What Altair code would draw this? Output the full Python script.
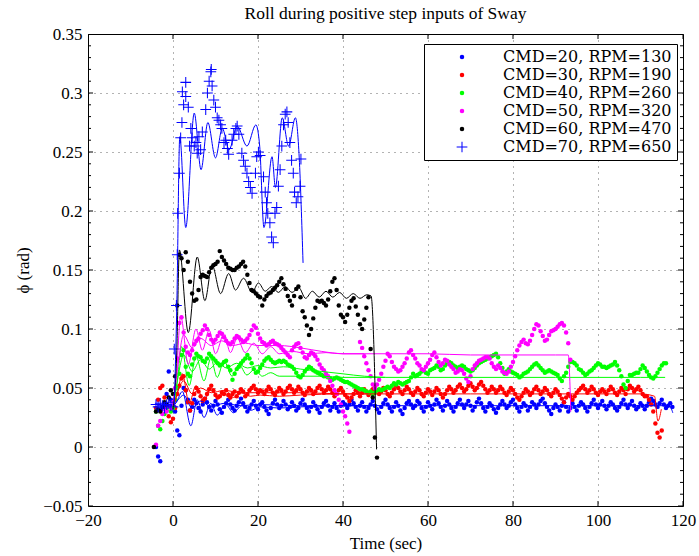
import altair as alt
import numpy as np
import pandas as pd

SERIES = ["CMD=20, RPM=130", "CMD=30, RPM=190", "CMD=40, RPM=260",
          "CMD=50, RPM=320", "CMD=60, RPM=470", "CMD=70, RPM=650"]
COLORS = ["#0000ff", "#ff0000", "#00ff00", "#ff00ff", "#000000", "#0000ff"]
# thin filled plus (arms ~1 px thick once scaled by the symbol size)
PLUS = ("M-2.4,-0.23L2.4,-0.23L2.4,0.23L-2.4,0.23Z"
        "M-0.23,-2.4L0.23,-2.4L0.23,2.4L-0.23,2.4Z")
SHAPES = ["circle", "circle", "circle", "circle", "circle", PLUS]

X_TICKS = [-20, 0, 20, 40, 60, 80, 100, 120]
Y_TICKS = [-0.05, 0.0, 0.05, 0.1, 0.15, 0.2, 0.25, 0.3, 0.35]
Y_MINOR = [round(-0.05 + 0.01 * i, 2) for i in range(41)]

# measured samples (0.5 s sample interval)
STEP = 0.5
T0_20 = -4.0
DOTS_20 = [0.000, -0.008, -0.012, 0.032, 0.036, 0.045, 0.064, 0.040, 0.035, 0.030,
           0.014, 0.010, 0.035, 0.050, 0.048, 0.040, 0.031, 0.034, 0.040, 0.037,
           0.033, 0.030, 0.036, 0.041, 0.038, 0.034, 0.031, 0.035, 0.039, 0.036,
           0.032, 0.029, 0.034, 0.037, 0.040, 0.036, 0.033, 0.031, 0.035, 0.038,
           0.041, 0.037, 0.034, 0.030, 0.033, 0.036, 0.039, 0.035, 0.032, 0.036,
           0.038, 0.034, 0.031, 0.028, 0.033, 0.037, 0.040, 0.036, 0.033, 0.035,
           0.039, 0.036, 0.032, 0.034, 0.038, 0.035, 0.031, 0.033, 0.037, 0.040,
           0.036, 0.033, 0.030, 0.034, 0.038, 0.035, 0.032, 0.029, 0.034, 0.037,
           0.039, 0.035, 0.031, 0.034, 0.037, 0.033, 0.030, 0.035, 0.038, 0.036,
           0.033, 0.036, 0.040, 0.037, 0.034, 0.031, 0.035, 0.038, 0.034, 0.030,
           0.033, 0.036, 0.039, 0.035, 0.032, 0.029, 0.034, 0.037, 0.040, 0.036,
           0.033, 0.030, 0.034, 0.038, 0.035, 0.031, 0.028, 0.033, 0.037, 0.039,
           0.036, 0.033, 0.035, 0.039, 0.037, 0.033, 0.030, 0.034, 0.038, 0.035,
           0.032, 0.036, 0.040, 0.037, 0.034, 0.031, 0.035, 0.039, 0.036, 0.033,
           0.030, 0.034, 0.037, 0.040, 0.036, 0.033, 0.036, 0.039, 0.035, 0.031,
           0.034, 0.038, 0.041, 0.037, 0.033, 0.030, 0.034, 0.037, 0.035, 0.032,
           0.029, 0.033, 0.036, 0.039, 0.036, 0.033, 0.035, 0.038, 0.040, 0.036,
           0.033, 0.030, 0.034, 0.037, 0.035, 0.031, 0.034, 0.038, 0.036, 0.033,
           0.036, 0.039, 0.041, 0.037, 0.034, 0.031, 0.028, 0.033, 0.036, 0.034,
           0.031, 0.035, 0.038, 0.034, 0.030, 0.033, 0.037, 0.034, 0.031, 0.035,
           0.038, 0.036, 0.033, 0.030, 0.034, 0.037, 0.040, 0.036, 0.033, 0.036,
           0.039, 0.035, 0.032, 0.035, 0.038, 0.036, 0.033, 0.031, 0.034, 0.037,
           0.040, 0.036, 0.033, 0.036, 0.039, 0.035, 0.032, 0.034, 0.037, 0.035,
           0.032, 0.035, 0.038, 0.041, 0.039, 0.036, 0.034, 0.037, 0.040, 0.036,
           0.033, 0.035, 0.037, 0.034]

T0_30 = -4.0
DOTS_30 = [0.033, 0.040, 0.050, 0.052, 0.042, 0.034, 0.026, 0.021, 0.024, 0.033,
           0.045, 0.052, 0.058, 0.060, 0.048, 0.038, 0.031, 0.037, 0.045, 0.050,
           0.047, 0.043, 0.039, 0.041, 0.045, 0.049, 0.052, 0.048, 0.044, 0.042,
           0.043, 0.046, 0.045, 0.048, 0.044, 0.042, 0.045, 0.047, 0.043, 0.046,
           0.049, 0.047, 0.043, 0.045, 0.048, 0.050, 0.052, 0.049, 0.046, 0.048,
           0.047, 0.045, 0.048, 0.051, 0.049, 0.046, 0.044, 0.047, 0.050, 0.048,
           0.045, 0.047, 0.050, 0.052, 0.049, 0.046, 0.048, 0.051, 0.049, 0.046,
           0.044, 0.047, 0.050, 0.048, 0.045, 0.047, 0.050, 0.052, 0.049, 0.046,
           0.048, 0.051, 0.049, 0.046, 0.043, 0.045, 0.048, 0.050, 0.047, 0.044,
           0.042, 0.039, 0.042, 0.045, 0.048, 0.046, 0.043, 0.046, 0.049, 0.047,
           0.044, 0.046, 0.049, 0.051, 0.048, 0.045, 0.047, 0.050, 0.048, 0.045,
           0.043, 0.046, 0.049, 0.052, 0.050, 0.047, 0.045, 0.048, 0.051, 0.049,
           0.046, 0.044, 0.047, 0.050, 0.048, 0.045, 0.043, 0.046, 0.049, 0.047,
           0.044, 0.047, 0.050, 0.048, 0.045, 0.042, 0.045, 0.048, 0.051, 0.049,
           0.046, 0.048, 0.051, 0.053, 0.050, 0.047, 0.049, 0.052, 0.054, 0.051,
           0.048, 0.050, 0.053, 0.055, 0.052, 0.049, 0.046, 0.048, 0.051, 0.049,
           0.046, 0.048, 0.051, 0.049, 0.046, 0.044, 0.047, 0.050, 0.048, 0.045,
           0.042, 0.040, 0.043, 0.046, 0.049, 0.047, 0.044, 0.046, 0.049, 0.051,
           0.048, 0.045, 0.047, 0.050, 0.048, 0.045, 0.043, 0.046, 0.049, 0.047,
           0.044, 0.041, 0.038, 0.042, 0.045, 0.043, 0.040, 0.043, 0.046, 0.048,
           0.050, 0.052, 0.049, 0.046, 0.048, 0.051, 0.049, 0.046, 0.044, 0.047,
           0.049, 0.047, 0.045, 0.048, 0.051, 0.049, 0.046, 0.044, 0.047, 0.050,
           0.048, 0.045, 0.049, 0.052, 0.050, 0.047, 0.049, 0.051, 0.048, 0.045,
           0.043, 0.043, 0.040, 0.036, 0.030, 0.020, 0.012, 0.008, 0.014]

T0_40 = -4.0
DOTS_40 = [0.030, 0.018, 0.015, 0.022, 0.028, 0.031, 0.034, 0.030, 0.033, 0.040,
           0.050, 0.062, 0.078, 0.082, 0.068, 0.062, 0.060, 0.070, 0.075, 0.079,
           0.077, 0.076, 0.073, 0.072, 0.075, 0.079, 0.077, 0.075, 0.073, 0.071,
           0.069, 0.070, 0.072, 0.073, 0.068, 0.065, 0.057, 0.062, 0.066, 0.068,
           0.071, 0.073, 0.075, 0.078, 0.075, 0.071, 0.066, 0.063, 0.064, 0.067,
           0.070, 0.073, 0.075, 0.076, 0.074, 0.072, 0.071, 0.072, 0.073, 0.072,
           0.073, 0.072, 0.070, 0.069, 0.068, 0.066, 0.063, 0.060, 0.059, 0.061,
           0.064, 0.066, 0.068, 0.067, 0.065, 0.064, 0.063, 0.062, 0.061, 0.060,
           0.060, 0.059, 0.058, 0.057, 0.058, 0.059, 0.058, 0.057, 0.056, 0.055,
           0.055, 0.054, 0.053, 0.052, 0.051, 0.050, 0.049, 0.049, 0.048, 0.047,
           0.046, 0.047, 0.045, 0.046, 0.048, 0.049, 0.048, 0.049, 0.050, 0.051,
           0.050, 0.052, 0.054, 0.053, 0.055, 0.054, 0.053, 0.054, 0.055, 0.056,
           0.059, 0.062, 0.060, 0.061, 0.062, 0.064, 0.065, 0.063, 0.062, 0.065,
           0.066, 0.067, 0.069, 0.068, 0.065, 0.066, 0.069, 0.071, 0.072, 0.071,
           0.069, 0.068, 0.067, 0.068, 0.069, 0.068, 0.066, 0.065, 0.064, 0.065,
           0.067, 0.069, 0.071, 0.072, 0.073, 0.074, 0.075, 0.076, 0.077, 0.078,
           0.079, 0.076, 0.071, 0.067, 0.062, 0.064, 0.066, 0.064, 0.063, 0.062,
           0.061, 0.059, 0.060, 0.062, 0.063, 0.064, 0.066, 0.068, 0.070, 0.071,
           0.069, 0.067, 0.065, 0.063, 0.064, 0.065, 0.064, 0.063, 0.062, 0.061,
           0.058, 0.056, 0.060, 0.063, 0.068, 0.072, 0.072, 0.071, 0.069, 0.066,
           0.065, 0.063, 0.061, 0.062, 0.064, 0.065, 0.067, 0.069, 0.071, 0.070,
           0.068, 0.068, 0.067, 0.068, 0.069, 0.070, 0.072, 0.069, 0.065, 0.060,
           0.053, 0.050, 0.056, 0.061, 0.061, 0.062, 0.063, 0.063, 0.066, 0.069,
           0.067, 0.064, 0.061, 0.059, 0.058, 0.060, 0.063, 0.066, 0.069, 0.071,
           0.071]

T0_50 = -4.0
DOTS_50 = [0.002, 0.018, 0.022, 0.028, 0.032, 0.030, 0.035, 0.033, 0.038, 0.050,
           0.075, 0.105, 0.110, 0.097, 0.085, 0.080, 0.078, 0.082, 0.087, 0.090,
           0.092, 0.096, 0.099, 0.103, 0.100, 0.095, 0.091, 0.089, 0.091, 0.094,
           0.097, 0.096, 0.093, 0.090, 0.088, 0.087, 0.089, 0.092, 0.094, 0.093,
           0.091, 0.089, 0.090, 0.092, 0.095, 0.099, 0.103, 0.101, 0.096, 0.092,
           0.089, 0.088, 0.086, 0.087, 0.089, 0.090, 0.088, 0.087, 0.086, 0.084,
           0.082, 0.080, 0.078, 0.076, 0.082, 0.085, 0.087, 0.088, 0.084, 0.080,
           0.076, 0.075, 0.078, 0.080, 0.079, 0.077, 0.074, 0.070, 0.067, 0.065,
           0.062, 0.060, 0.056, 0.052, 0.048, 0.045, 0.040, 0.036, 0.030, 0.026,
           0.020, 0.013, None, None, None, None,
           0.089, 0.084, 0.077, 0.071, 0.065, 0.060, 0.053, 0.050, 0.053, 0.057,
           0.062, 0.068, 0.073, 0.079, 0.077, 0.072, 0.068, 0.066, 0.064, 0.065,
           0.068, 0.071, 0.075, 0.080, 0.082, 0.078, 0.075, 0.071, 0.069, 0.066,
           0.065, 0.068, 0.071, 0.074, 0.078, 0.080, 0.076, 0.072, 0.069, 0.071,
           0.074, 0.073, 0.070, 0.068, 0.066, 0.063, 0.064, 0.066, 0.065, 0.062,
           0.058, 0.055, 0.060, 0.066, 0.069, 0.071, 0.073, 0.074, 0.075, 0.076,
           0.076, 0.075, 0.071, 0.068, 0.066, 0.069, 0.067, 0.064, 0.063, 0.062,
           0.064, 0.068, 0.072, 0.077, 0.082, 0.086, 0.089, 0.091, 0.088, 0.087,
           0.090, 0.095, 0.100, 0.104, 0.103, 0.098, 0.094, 0.090, 0.091, 0.095,
           0.098, 0.099, 0.100, 0.102, 0.104, 0.105, 0.103, 0.097, 0.088, 0.074]

T0_60 = -4.5
DOTS_60 = [0.000, 0.030, 0.032, 0.030, 0.034, 0.038, 0.036, 0.042, 0.048, 0.045, 0.060,
           0.120, 0.163, 0.160, 0.150, 0.165, 0.157, 0.140, 0.130, 0.124, 0.125,
           0.133, 0.144, 0.146, 0.145, 0.144, 0.148, 0.152, 0.154, 0.155, 0.157,
           0.166, 0.161, 0.158, 0.155, 0.152, 0.151, 0.150, 0.150, 0.152, 0.153,
           0.155, 0.157, 0.153, 0.146, 0.139, 0.133, 0.132, 0.130, 0.128, 0.127,
           0.120, 0.125, 0.128, 0.130, 0.131, 0.133, 0.135, 0.137, 0.140, 0.143,
           0.138, 0.134, 0.128, 0.124, 0.120, 0.128, 0.134, 0.136, 0.127, 0.115,
           0.110, 0.103, 0.095, 0.100, 0.109, 0.118, 0.124, 0.123, 0.124, 0.122,
           0.120, 0.125, 0.132, 0.140, 0.143, 0.133, 0.120, 0.112, 0.110, 0.106,
           0.112, 0.118, 0.124, 0.126, 0.119, 0.112, 0.104, 0.100, 0.108, 0.118,
           0.127, 0.083, 0.042, 0.008, -0.009]

PLUS_70_T = [-4.0, -3.5, -3.0, -2.5, -2.0, -1.5, -1.0, -0.5, 0.0, 0.3, 0.8, 1.0, 1.1,
             1.5, 1.8, 2.1, 2.2, 2.5, 3.0, 3.0, 3.6, 3.9, 4.2, 4.5, 5.0, 5.4, 5.7,
             6.1, 6.5, 6.9, 7.7, 8.1, 8.5, 8.9, 9.0, 9.2, 9.6, 10.0, 10.4, 10.8,
             11.2, 11.5, 12.0, 12.4, 12.8, 13.1, 13.9, 14.3, 14.8, 15.1, 15.5, 16.2,
             16.6, 17.0, 17.4, 17.8, 18.2, 18.6, 19.4, 19.7, 20.1, 20.5, 21.3, 21.7,
             22.0, 22.3, 22.8, 23.2, 23.6, 24.0, 24.4, 24.8, 25.2, 25.6, 26.0, 26.4,
             26.8, 27.1, 27.5, 27.9, 28.3, 28.6, 29.0, 29.4, 29.9, 30.1]
PLUS_70_V = [0.036, 0.034, 0.037, 0.035, 0.033, 0.036, 0.038, 0.035, 0.034, 0.083, 0.120, 0.163, 0.198,
             0.232, 0.262, 0.275, 0.301, 0.290, 0.297, 0.309, 0.288, 0.255, 0.270, 0.262, 0.255, 0.258, 0.249,
             0.263, 0.252, 0.267, 0.286, 0.300, 0.310, 0.318, 0.320, 0.306, 0.294, 0.288, 0.279, 0.277,
             0.273, 0.270, 0.258, 0.260, 0.253, 0.248, 0.260, 0.265, 0.270, 0.272, 0.265, 0.249,
             0.243, 0.238, 0.232, 0.225, 0.220, 0.215, 0.232, 0.246, 0.250, 0.247, 0.229, 0.216,
             0.207, 0.198, 0.190, 0.178, 0.173, 0.198, 0.203, 0.221, 0.235, 0.255, 0.273, 0.282,
             0.284, 0.275, 0.258, 0.243, 0.232, 0.216, 0.207, 0.212, 0.221, 0.244]

# model responses
LINE_20A_T = [0.0, 0.8, 2.2, 4.2, 5.7, 7.3, 8.9, 10.4, 12.4, 14.2, 16.2, 18.2, 20.5, 25, 30, 40,
              50, 60, 70, 80, 90, 100, 110, 116.8, 117.6]
LINE_20A_V = [0.034, 0.038, 0.047, 0.018, 0.040, 0.025, 0.037, 0.027, 0.036, 0.029, 0.035, 0.031,
              0.034, 0.033, 0.034, 0.035, 0.035, 0.035, 0.035, 0.035, 0.035, 0.035, 0.035, 0.035, 0.029]
LINE_20B_T = [0.0, 1.2, 2.5, 4.5, 6.5, 9.0, 12.0, 16.0, 20.0, 30.0, 40.0, 46.0]
LINE_20B_V = [0.034, 0.040, 0.044, 0.033, 0.039, 0.034, 0.037, 0.035, 0.036, 0.035, 0.035, 0.035]
LINE_30A_T = [0.0, 1.0, 2.2, 3.8, 5.4, 7.3, 8.9, 10.8, 12.4, 14.3, 16.2, 18.2, 20.5, 25, 30, 40,
              50, 60, 70, 80, 90, 100, 110, 113.3, 114.1, 114.9]
LINE_30A_V = [0.033, 0.045, 0.062, 0.037, 0.052, 0.039, 0.050, 0.041, 0.048, 0.042, 0.046, 0.043,
              0.044, 0.043, 0.044, 0.045, 0.045, 0.045, 0.045, 0.045, 0.045, 0.045, 0.045, 0.043,
              0.022, 0.032]
LINE_30B_T = [0.0, 1.2, 2.5, 4.5, 6.5, 9.0, 12.0, 16.0, 20.0, 30.0, 40.0, 46.0]
LINE_30B_V = [0.033, 0.048, 0.056, 0.045, 0.050, 0.046, 0.048, 0.046, 0.046, 0.046, 0.045, 0.045]
LINE_40A_T = [0.0, 1.0, 2.0, 3.8, 5.4, 7.3, 8.9, 10.4, 12.0, 13.9, 15.5, 17.4, 19.2, 21.0, 23.0,
              25.0, 30.0, 35.0, 40.0, 50.0, 60.0, 70.0, 80.0, 90.0, 100.0, 110.0, 115.8]
LINE_40A_V = [0.033, 0.055, 0.085, 0.052, 0.077, 0.056, 0.075, 0.059, 0.073, 0.060, 0.070, 0.061,
              0.066, 0.060, 0.063, 0.060, 0.060, 0.060, 0.059, 0.059, 0.059, 0.059, 0.059, 0.059,
              0.059, 0.059, 0.059]
LINE_40B_T = [0.0, 1.2, 2.5, 4.5, 6.5, 8.5, 10.5, 12.5, 15.0, 17.5, 20.0, 23.0, 26.0, 30.0, 35.0,
              40.0, 45.0, 50.0]
LINE_40B_V = [0.033, 0.060, 0.078, 0.064, 0.074, 0.066, 0.072, 0.067, 0.071, 0.067, 0.069, 0.067,
              0.068, 0.066, 0.064, 0.062, 0.060, 0.059]
LINE_50A_T = [0.0, 0.8, 1.8, 3.6, 5.4, 6.9, 8.5, 10.0, 12.0, 13.5, 15.1, 17.0, 19.0, 21.0, 23.0,
              25.0, 28.0, 32.0, 36.0, 40.0, 50.0, 60.0, 70.0, 80.0, 90.0, 93.0, 93.6]
LINE_50A_V = [0.035, 0.060, 0.111, 0.070, 0.100, 0.082, 0.099, 0.079, 0.096, 0.080, 0.092, 0.080,
              0.088, 0.079, 0.085, 0.079, 0.081, 0.079, 0.080, 0.079, 0.079, 0.079, 0.078, 0.078,
              0.078, 0.078, 0.030]
LINE_50B_T = [0.0, 1.2, 2.5, 4.5, 6.5, 9.0, 11.5, 14.0, 17.0, 20.0, 25.0, 30.0, 35.0, 40.0, 45.0]
LINE_50B_V = [0.035, 0.070, 0.095, 0.084, 0.092, 0.086, 0.090, 0.086, 0.088, 0.086, 0.086, 0.084,
              0.081, 0.079, 0.079]
LINE_60_T = [0.0, 0.9, 1.5, 3.6, 5.7, 7.5, 9.2, 11.2, 13.1, 14.7, 16.6, 18.6, 20.1, 21.7, 23.2,
             24.8, 26.4, 28.0, 29.6, 31.2, 32.8, 34.4, 36.0, 37.6, 39.2, 40.8, 42.4, 44.0, 45.6,
             46.6, 47.9]
LINE_60_V = [0.032, 0.082, 0.167, 0.097, 0.161, 0.124, 0.154, 0.130, 0.147, 0.133, 0.143, 0.131,
             0.139, 0.132, 0.136, 0.131, 0.136, 0.131, 0.135, 0.126, 0.132, 0.127, 0.132, 0.127,
             0.131, 0.126, 0.130, 0.126, 0.129, 0.128, -0.002]
LINE_70_T = [0.3, 0.9, 1.6, 3.0, 5.0, 6.6, 8.2, 10.0, 11.6, 13.2, 15.1, 17.4, 19.5, 20.4, 21.4,
             23.3, 24.1, 25.7, 27.2, 28.8, 29.7, 30.6]
LINE_70_V = [0.035, 0.120, 0.263, 0.186, 0.283, 0.235, 0.275, 0.245, 0.270, 0.252, 0.272, 0.255,
             0.273, 0.255, 0.186, 0.246, 0.220, 0.279, 0.255, 0.279, 0.245, 0.156]


def grid_frame(t0, vals, name):
    t = t0 + STEP * np.arange(len(vals))
    df = pd.DataFrame({"t": t, "v": pd.array(vals, dtype="Float64"), "series": name})
    df = df.dropna()
    df["v"] = df["v"].astype(float)
    return df


dots = pd.concat([
    grid_frame(T0_20, DOTS_20, SERIES[0]),
    grid_frame(T0_30, DOTS_30, SERIES[1]),
    grid_frame(T0_40, DOTS_40, SERIES[2]),
    grid_frame(T0_50, DOTS_50, SERIES[3]),
    grid_frame(T0_60, DOTS_60, SERIES[4]),
    pd.DataFrame({"t": PLUS_70_T, "v": PLUS_70_V, "series": SERIES[5]}),
], ignore_index=True)


def line_frame(ts, vs, name, lid):
    return pd.DataFrame({"t": ts, "v": vs, "series": name, "lid": lid})


lines = pd.concat([
    line_frame(LINE_20A_T, LINE_20A_V, SERIES[0], "20a"),
    line_frame(LINE_20B_T, LINE_20B_V, SERIES[0], "20b"),
    line_frame(LINE_30A_T, LINE_30A_V, SERIES[1], "30a"),
    line_frame(LINE_30B_T, LINE_30B_V, SERIES[1], "30b"),
    line_frame(LINE_40A_T, LINE_40A_V, SERIES[2], "40a"),
    line_frame(LINE_40B_T, LINE_40B_V, SERIES[2], "40b"),
    line_frame(LINE_50A_T, LINE_50A_V, SERIES[3], "50a"),
    line_frame(LINE_50B_T, LINE_50B_V, SERIES[3], "50b"),
    line_frame(LINE_60_T, LINE_60_V, SERIES[4], "60"),
    line_frame(LINE_70_T, LINE_70_V, SERIES[5], "70"),
], ignore_index=True)

# inward frame ticks (MATLAB style box): major ticks longer than minor ones
yticks = pd.DataFrame({"v": Y_MINOR,
                       "len": [10 if any(abs(m - v) < 1e-9 for m in Y_TICKS) else 6 for v in Y_MINOR]})
xticks = pd.DataFrame({"t": X_TICKS, "len": [10] * len(X_TICKS)})

FONT = "Liberation Serif"
LEGEND_FONT = "DejaVu Serif"

XS = alt.Scale(domain=[-20, 120], nice=False, zero=False)
YS = alt.Scale(domain=[-0.05, 0.35], nice=False, zero=False)

x_enc = alt.X("t:Q", scale=XS, axis=alt.Axis(values=X_TICKS, format="d", title="Time (sec)"))
y_enc = alt.Y("v:Q", scale=YS, axis=alt.Axis(values=Y_TICKS, format=".2~f", title="ϕ (rad)"))

leg = alt.Legend(title=None, orient="none", legendX=336, legendY=10,
                 fillColor="white", strokeColor="black", padding=5, cornerRadius=0,
                 labelFont=LEGEND_FONT, labelFontSize=16, labelColor="black", labelLimit=400,
                 symbolOffset=25, labelOffset=33,
                 symbolSize=20, symbolStrokeWidth=0)

points = alt.Chart(dots).mark_point(filled=True, opacity=1, size=20, strokeWidth=0).encode(
    x=x_enc,
    y=y_enc,
    color=alt.Color("series:N", scale=alt.Scale(domain=SERIES, range=COLORS), legend=leg),
    shape=alt.Shape("series:N", scale=alt.Scale(domain=SERIES, range=SHAPES), legend=leg),
)

curves = alt.Chart(lines).mark_line(strokeWidth=1, interpolate="monotone").encode(
    x=alt.X("t:Q"),
    y=alt.Y("v:Q"),
    color=alt.Color("series:N", scale=alt.Scale(domain=SERIES, range=COLORS), legend=None),
    detail="lid:N",
)

tick_style = dict(clip=True, thickness=1, color="black", opacity=1)
yt_left = alt.Chart(yticks).mark_tick(orient="horizontal", **tick_style).encode(
    y=alt.Y("v:Q"), x=alt.XDatum(-20), size=alt.Size("len:Q", scale=None, legend=None))
yt_right = alt.Chart(yticks).mark_tick(orient="horizontal", **tick_style).encode(
    y=alt.Y("v:Q"), x=alt.XDatum(120), size=alt.Size("len:Q", scale=None, legend=None))
xt_bottom = alt.Chart(xticks).mark_tick(orient="vertical", **tick_style).encode(
    x=alt.X("t:Q"), y=alt.YDatum(-0.05), size=alt.Size("len:Q", scale=None, legend=None))
xt_top = alt.Chart(xticks).mark_tick(orient="vertical", **tick_style).encode(
    x=alt.X("t:Q"), y=alt.YDatum(0.35), size=alt.Size("len:Q", scale=None, legend=None))

chart = alt.layer(points, curves, yt_left, yt_right, xt_bottom, xt_top).properties(
    width=595,
    height=472,
    background="white",
    title=alt.TitleParams("Roll during positive step inputs of Sway", font=FONT, fontSize=17.5,
                          fontWeight="normal", color="black", anchor="middle",
                          frame="group", offset=12, dy=9),
    autosize=alt.AutoSizeParams(type="none"),
    padding={"left": 88, "top": 34, "right": 16, "bottom": 50},
).configure_view(
    stroke="black", strokeWidth=1
).configure_axis(
    labelFont=FONT, labelFontSize=17, labelColor="black", labelFlush=False,
    titleFont=FONT, titleFontSize=17, titleFontWeight="normal", titleColor="black",
    grid=True, gridColor="#000000", gridDash=[1, 5], gridOpacity=0.6, gridWidth=1,
    domain=False, ticks=False, labelPadding=6,
).configure_axisX(titlePadding=7).configure_axisY(titlePadding=10).configure_legend(
    symbolBaseFillColor="#0000ff", symbolBaseStrokeColor="#0000ff", rowPadding=2
)

chart.save("out.html", embed_options={"renderer": "svg", "actions": False})
